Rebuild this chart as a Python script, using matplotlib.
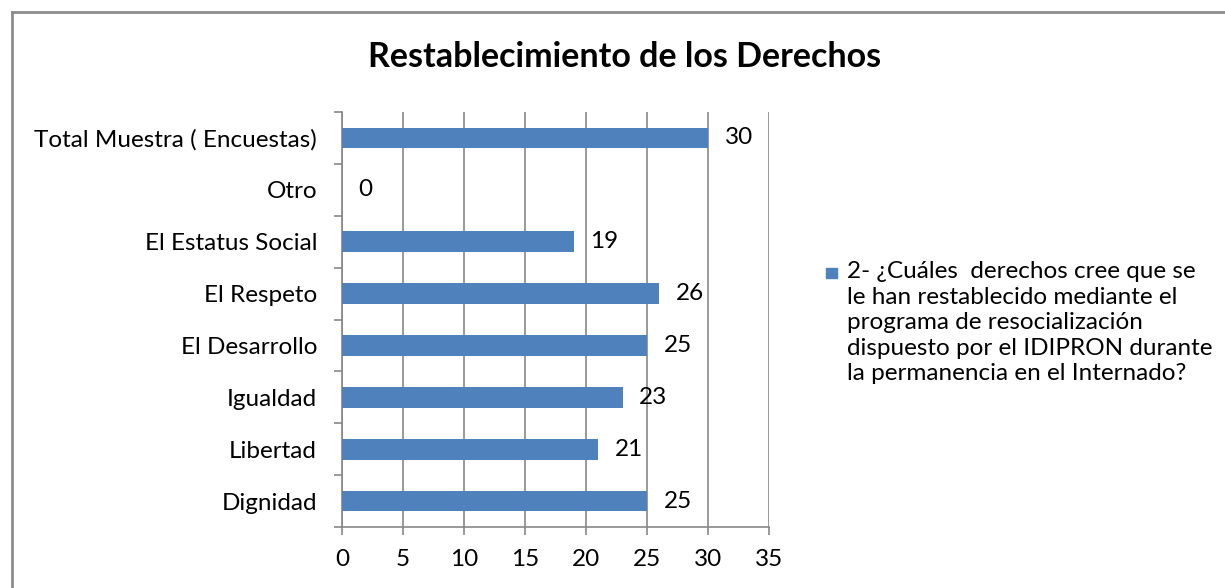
import numpy as np
import matplotlib.pyplot as plt
from matplotlib.lines import Line2D

categories = ["Dignidad", "Libertad", "Igualdad", "El Desarrollo", "El Respeto",
              "El Estatus Social", "Otro", "Total Muestra ( Encuestas)"]
values = [25, 21, 23, 25, 26, 19, 0, 30]
x_ticks = [0, 5, 10, 15, 20, 25, 30, 35]
title = "Restablecimiento de los Derechos"
legend_text = ("2- ¿Cuáles  derechos cree que se\nle han restablecido mediante el\n"
               "programa de resocialización\ndispuesto por el IDIPRON durante\n"
               "la permanencia en el Internado?")

plt.rcParams['font.family'] = ['Lato', 'DejaVu Sans']
bar_color = "#4F81BD"
grid_color = "#878787"
fs = 17.5

fig = plt.figure(figsize=(12.25, 5.88), dpi=100)
ax = fig.add_axes([0.2792, 0.1037, 0.3486, 0.7058])

y = np.arange(len(categories))
ax.barh(y, values, height=0.4, color=bar_color, zorder=3)
for yi, v in zip(y, values):
    ax.annotate(str(v), (v, yi), xytext=(12, 0), textcoords="offset points",
                va="center", ha="left", fontsize=fs, color="black")

ax.set_xlim(0, 35)
ax.set_ylim(-0.5, len(categories) - 0.5)
ax.set_xticks(x_ticks)
ax.set_xticklabels([str(t) for t in x_ticks], fontsize=fs)
ax.set_yticks(y)
ax.set_yticklabels(categories, fontsize=fs)
ax.set_yticks(np.arange(-0.5, len(categories)), minor=True)
ax.tick_params(axis="y", which="major", length=0, pad=18)
ax.tick_params(axis="y", which="minor", length=6, color=grid_color, width=1.2)
ax.tick_params(axis="x", length=6, color=grid_color, width=1.2, pad=10)
ax.grid(axis="x", color=grid_color, linewidth=1.2, zorder=0)
for s in ["top", "right"]:
    ax.spines[s].set_visible(False)
for s in ["left", "bottom"]:
    ax.spines[s].set_color(grid_color)
    ax.spines[s].set_linewidth(1.2)

fig.text(0.51, 0.903, title, ha="center", va="center", fontsize=24.5, fontweight="bold")

# legend
fig.patches.append(plt.Rectangle((0.6745, 0.527), 0.0085, 0.0175, transform=fig.transFigure,
                                 color=bar_color))
fig.text(0.6915, 0.556, legend_text, ha="left", va="top", fontsize=fs,
         linespacing=1.27, transform=fig.transFigure)

# outer frame
fig.add_artist(Line2D([0.0095, 0.0095], [0.0, 0.98], color="#8c8c8c", linewidth=2,
                      transform=fig.transFigure))
fig.add_artist(Line2D([0.0095, 1.0], [0.98, 0.98], color="#8c8c8c", linewidth=2,
                      transform=fig.transFigure))

fig.savefig("out.png", dpi=100)
